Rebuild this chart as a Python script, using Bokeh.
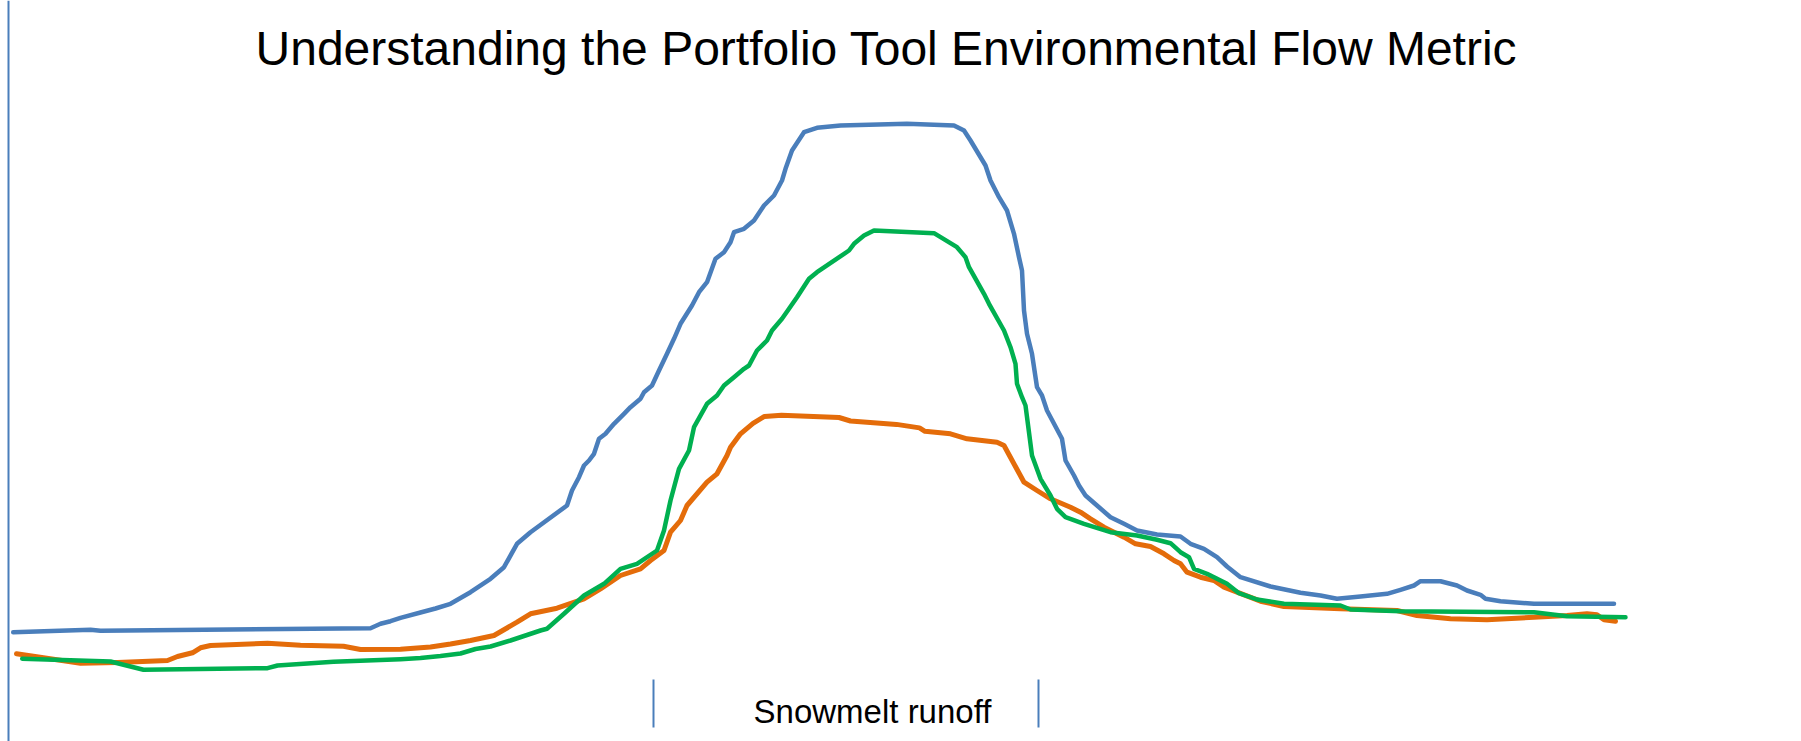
from bokeh.plotting import figure
from bokeh.models import Range1d, Span, Label, ColumnDataSource
from bokeh.embed import file_html
from bokeh.resources import INLINE

# ---- data (day of water year, flow) ----
blue_day = [2.54, 18, 20, 74, 76, 78, 80, 84, 87, 90, 94, 98, 100.7, 103.3, 106, 113.3, 114.3, 115.7,
            116.7, 117.7, 118.7, 119.7, 121, 122.7, 124.7, 126, 128, 128.7, 130.3, 131.7, 133.3, 134.7,
            136, 138.3, 139.7, 141.3, 143, 144.7, 146, 146.7, 148.7, 150.7, 152.7, 154.7, 156.3, 157,
            158.3, 160.7, 163.3, 168, 181.3, 190.7, 192.7, 194, 197, 198, 199.7, 201.3, 202.7, 203.7,
            204.3, 204.7, 205.3, 206.3, 207.3, 208.3, 209.3, 212.3, 213, 214.7, 215.7, 217, 219.3, 222,
            224.7, 227.3, 231.3, 236, 238, 240.7, 243.3, 245.3, 248, 254, 260, 264, 267.3, 272, 277.3,
            280, 282.7, 284, 288, 291.3, 293.3, 296, 297, 300, 306.7, 322.7]
blue_flow = [68.3, 70.7, 69.7, 72.3, 76.7, 79.3, 82.7, 88, 92, 96.7, 108.3, 121.7, 133.3, 156.7, 168.3, 195,
             210, 223.3, 235, 240, 246.7, 261.7, 266.7, 276.7, 286.7, 293.3, 301.7, 308.3, 315, 330, 346.7,
             361.7, 376.7, 395, 408.3, 418.3, 441.7, 448.3, 458.3, 468.3, 471.7, 480, 495, 505, 520, 531.7,
             550, 568.3, 572.7, 575, 576.7, 575, 570, 560, 535, 520, 503.3, 490, 466.7, 443.3, 430, 390,
             366.7, 346.7, 313.3, 305, 290, 261.7, 240, 225, 215, 205, 195, 183.3, 176.7, 170, 166, 164,
             156.7, 151.7, 143.3, 134, 123.3, 114, 107.7, 105, 101.7, 104, 106.7, 110.7, 115, 119.3, 119.3,
             115, 110, 105.7, 101.7, 99.3, 96.7, 96.7]

orange_day = [3.2, 16, 23.4, 33.4, 35.4, 38.4, 40, 42, 53.4, 60, 68.6, 72, 80, 86, 90, 94, 98.7, 103.3,
              106, 111.3, 116.7, 120, 124, 128, 130, 132.7, 134, 136, 137.3, 141.3, 143.3, 145.3, 146,
              148, 150.5, 152.8, 156.2, 167.7, 170, 179.2, 183.8, 184.9, 190, 193.3, 199.3, 200.7, 204.7,
              207.3, 210, 214, 216, 218, 220.7, 224.7, 227, 230, 232.7, 234.7, 236, 237.3, 240, 242.7,
              244.7, 247.3, 252, 256.7, 268, 279.3, 283.3, 290, 297.3, 306.7, 313.3, 317.3, 319.3, 320.7,
              323]
orange_flow = [46.7, 37.3, 38, 40, 44, 47.7, 52.7, 55, 57.3, 55.3, 54.3, 51, 51.3, 53.5, 56.5, 60, 65, 78.3,
               86.7, 92.3, 101.7, 111.7, 125, 131.7, 140, 150, 168.3, 180, 195, 218.3, 226.7, 245, 253.3,
               266.7, 277.2, 284.1, 285.3, 283, 279.5, 276.1, 272.6, 269.2, 266.7, 261.7, 258.3, 255, 218.3,
               210, 201.7, 193.3, 188.3, 181.7, 173.3, 163.3, 156.7, 154, 146.7, 140, 136.7, 128.3, 123.3,
               120, 113.3, 108.3, 99.3, 94, 91.7, 90, 85, 81.7, 80.7, 83.3, 85, 86.7, 85.7, 80.7, 79.3]

green_day = [4.34, 22, 28.6, 53.4, 55.4, 66.6, 80, 84, 88, 92, 95, 98, 102, 108, 109.3, 112.7, 116.7, 120.7, 124,
             127.3, 131.3, 132.7, 134, 135.7, 137.7, 138.7, 141.3, 143.3, 144.7, 146.7, 148.7, 149.7,
             151.3, 153.3, 154.3, 156.3, 157.7, 159.3, 161.7, 163.3, 169.7, 170.7, 172.7, 174.7, 186.7,
             191.3, 193, 193.7, 196.7, 197.7, 200.7, 202, 203, 203.3, 204.3, 205, 206.3, 208, 210, 211.3,
             213, 216.7, 222, 227.3, 231.3, 234, 236, 237.7, 238.7, 241.3, 243.3, 245.3, 247.7, 251.3,
             256.7, 268, 270, 280, 306.7, 313.3, 325]
green_flow = [41.7, 39, 30.7, 32.3, 35, 38.7, 41.3, 42.5, 44.5, 47, 51.5, 54, 60, 70, 71.7, 86.7, 105, 116.7, 131.7, 136.7,
              150, 170, 200, 231.7, 250, 273.3, 296.7, 305, 315, 323.3, 331.7, 335, 350, 360, 370, 381.7,
              391.7, 403.3, 421.7, 428.3, 450, 456.7, 465, 470, 467.3, 453.3, 443.3, 433.3, 406.7, 396.7,
              370, 353.3, 336.7, 316.7, 303.3, 295, 245, 221.7, 205, 191.7, 183.3, 176.7, 168.3, 165, 160.7,
              157.3, 148.3, 143.3, 131.7, 126.7, 121.7, 116.7, 107.3, 101, 96.7, 95, 91, 89.3, 88.3, 84.3,
              83.3]

snowmelt_bounds = [130.6, 207.6]
snowmelt_label = "Snowmelt runoff"
snowmelt_label_day = 174.4
title_text = "Understanding the Portfolio Tool Environmental Flow Metric"
title_day = 177.2

BLUE = "#4A7EBB"
ORANGE = "#E46C0A"
GREEN = "#00B050"

p = figure(width=1801, height=741, output_backend="svg", toolbar_location=None,
           x_range=Range1d(0, 360.2), y_range=Range1d(-41, 700),
           x_axis_type=None, y_axis_type=None, min_border=0,
           background_fill_color="white", border_fill_color="white")
p.outline_line_color = None
p.xgrid.visible = False
p.ygrid.visible = False

# vertical axis line
p.add_layout(Span(location=1.6, dimension="height", line_color=BLUE, line_width=2))

p.line(blue_day, blue_flow, line_color=BLUE, line_width=4.5, line_join="round", line_cap="round")
p.line(orange_day, orange_flow, line_color=ORANGE, line_width=5, line_join="round", line_cap="round")
p.line(green_day, green_flow, line_color=GREEN, line_width=4.5, line_join="round", line_cap="round")

# snowmelt period tick marks
tick_src = ColumnDataSource(dict(x=snowmelt_bounds, y0=[21] * 2, y1=[-27] * 2))
p.segment(x0="x", y0="y0", x1="x", y1="y1", source=tick_src, line_color=BLUE, line_width=2)

p.add_layout(Label(x=snowmelt_label_day, y=-11, text=snowmelt_label,
                   text_font="Liberation Sans", text_font_size="33px", text_align="center",
                   text_baseline="alphabetic", text_color="black"))

p.add_layout(Label(x=title_day, y=652, text=title_text, text_font="Liberation Sans",
                   text_font_size="48px", text_align="center", text_baseline="alphabetic",
                   text_color="black"))

open("out.html", "w").write(file_html(p, INLINE))
